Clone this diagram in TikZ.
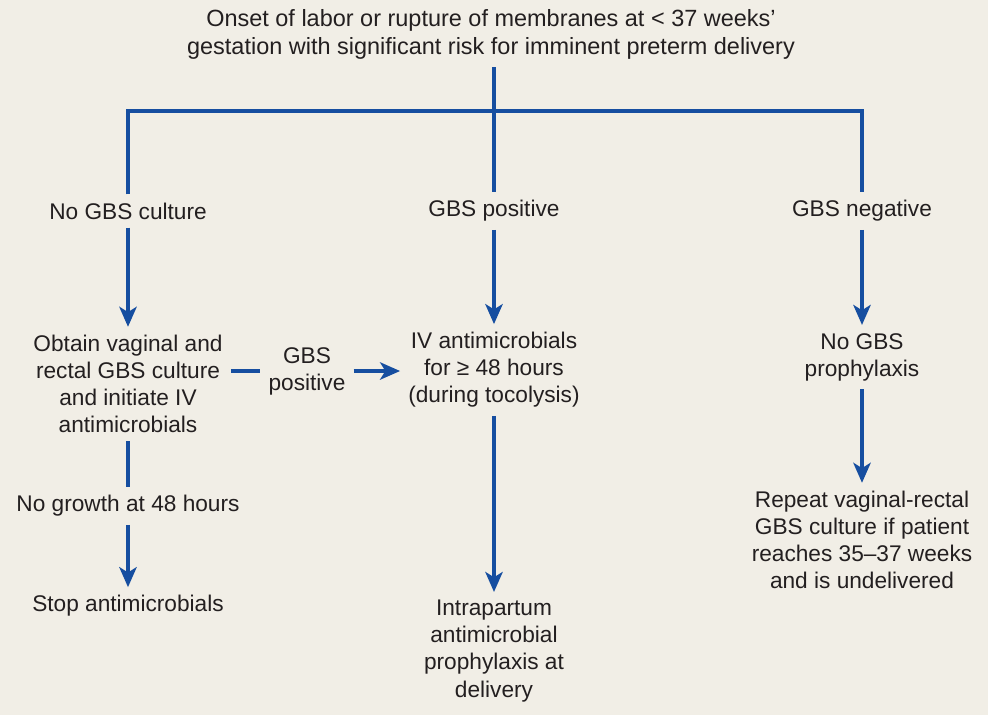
\documentclass[tikz,border=0pt]{standalone}
\usepackage{fontspec}
\setmainfont{Liberation Sans}
\usetikzlibrary{positioning, arrows.meta}
\definecolor{gbsblue}{RGB}{22, 78, 160}
\definecolor{pagebg}{RGB}{241, 238, 230}
\definecolor{inkgrey}{RGB}{35, 31, 32}

\begin{document}
\begin{tikzpicture}[x=0.75pt, y=-0.75pt,
  txt/.style={text=inkgrey, align=center, inner sep=6pt,
              font=\fontsize{17}{20.3}\selectfont},
  link/.style={draw=gbsblue, line width=3pt},
  flow/.style={link, -{Stealth[length=15pt, width=13pt, inset=4pt]}}]
  \fill[pagebg] (0,0) rectangle (988,715);

  \node[txt, font=\fontsize{17.6}{21}\selectfont] (onset) at (491,34)
    {Onset of labor or rupture of membranes at < 37 weeks’\\
     gestation with significant risk for imminent preterm delivery};
  \coordinate (bar) at (494,111);

  % three culture states
  \node[txt] (noculture) at (128,211) {No GBS culture};
  \node[txt] (positive) at (494,211) {GBS positive};
  \node[txt] (negative) at (862,211) {GBS negative};

  \node[txt] (obtain) at (128,384) {Obtain vaginal and\\ rectal GBS culture\\ and initiate IV\\ antimicrobials};
  \node[txt] (ivtreat) at (494,370) {IV antimicrobials\\ for ≥ 48 hours\\ (during tocolysis)};
  \node[txt] (noproph) at (862,357) {No GBS\\ prophylaxis};
  \node[txt] (sidepos) at (307,371) {GBS\\ positive};

  \node[txt] (nogrowth) at (128,506) {No growth at 48 hours};
  \node[txt] (stopabx) at (128,606) {Stop antimicrobials};
  \node[txt] (intra) at (494,651) {Intrapartum\\ antimicrobial\\ prophylaxis at\\ delivery};
  \node[txt] (repeat) at (862,540) {Repeat vaginal-rectal\\ GBS culture if patient\\ reaches 35–37 weeks\\ and is undelivered};

  \draw[link] (onset.south -| bar) -- (bar) -- (positive.north);
  \draw[link] (noculture.north) |- (bar) -| (negative.north);

  \draw[flow] (noculture) -- (obtain);
  \draw[flow] (positive) -- (ivtreat);
  \draw[flow] (negative) -- (noproph);

  \draw[link] (sidepos.west -| obtain.east) -- (sidepos.west);
  \draw[flow] (sidepos.east) -- (sidepos.east -| ivtreat.west);
  \draw[link] (obtain) -- (nogrowth);
  \draw[flow] (nogrowth) -- (stopabx);
  \draw[flow] (ivtreat) -- (intra);
  \draw[flow] (noproph) -- (repeat);
\end{tikzpicture}
\end{document}
